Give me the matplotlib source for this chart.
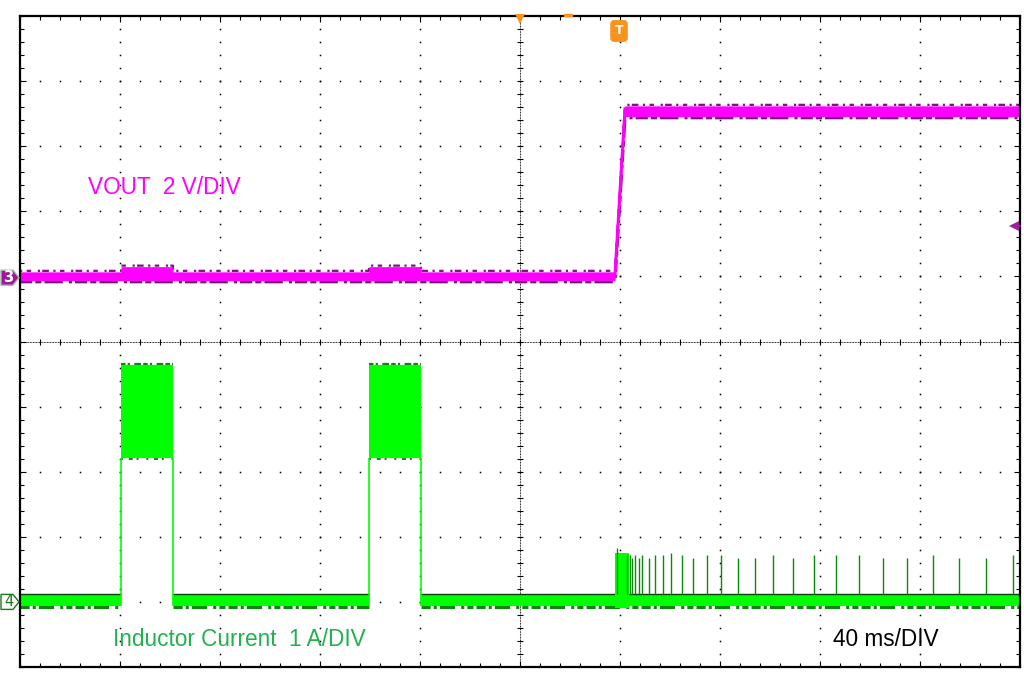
import matplotlib
matplotlib.use("Agg")
import matplotlib.pyplot as plt
import numpy as np
from matplotlib.patches import Polygon, Rectangle
from matplotlib.transforms import blended_transform_factory

# Scope settings (per division)
MS_PER_DIV = 40
V_PER_DIV = 2
A_PER_DIV = 1
CH3_OFFSET = 0.98    # VOUT ground marker, in divisions
CH4_OFFSET = -4.0    # inductor current ground marker, in divisions
TRIG_T = 39.6        # trigger point (ms from screen centre)
TRIG_LEVEL = 1.59    # VOUT trigger level (V)

# VOUT envelope: time (ms) and upper / lower edge of the trace (V)
vout_t = [-200, -159.6, -159.6, -138.8, -138.8, -60.4, -60.4, -39.6, -39.6, 38.0, 42.0, 200]
vout_hi = [0.18, 0.18, 0.34, 0.34, 0.18, 0.18, 0.34, 0.34, 0.18, 0.18, 5.28, 5.28]
vout_lo = [-0.09, -0.09, -0.09, -0.09, -0.09, -0.09, -0.09, -0.09, -0.09, -0.09, 4.95, 4.95]

# Inductor current baseline (idle) segments, ms
il_base_start = [-200, -138.8, -39.6]
il_base_end = [-159.6, -60.4, 200]
il_base_hi = 0.12
il_base_lo = -0.06

# Charging bursts: ripple band of the inductor current (A)
burst_start = [-159.6, -60.4]
burst_end = [-138.8, -39.6]
burst_lo = 2.21
burst_hi = 3.64

# Start-up block after VOUT rises
startup_t = [38.0, 43.6]
startup_hi = 0.75
startup_lo = -0.09

# Switching spikes after start-up: time (ms), peak current (A)
spike_t = [38.8, 42.9, 44.1, 44.9, 46.1, 47.5, 48.9, 51.5, 53.9, 57.1, 60.5, 64.9, 69.3,
           74.9, 80.5, 87.3, 94.1, 101.3, 109.3, 117.7, 126.5, 135.7, 145.3, 154.9,
           165.3, 175.7, 186.5, 197.3]
spike_a = [0.83, 0.72, 0.72, 0.68, 0.72, 0.68, 0.72, 0.68, 0.72, 0.72, 0.75, 0.72, 0.68,
           0.72, 0.72, 0.68, 0.68, 0.72, 0.68, 0.72, 0.72, 0.72, 0.68, 0.68,
           0.72, 0.68, 0.68, 0.72]

MAGENTA = "#ff00ff"
DARK_MAGENTA = "#7a137a"
GREEN = "#00ff00"
DARK_GREEN = "#0a8a0a"
ORANGE = "#f7941d"
PX = 1 / 65.1   # one pixel in vertical divisions

# convert channel values to screen divisions
def ch3(v):
    return CH3_OFFSET + np.asarray(v, dtype=float) / V_PER_DIV

def ch4(a):
    return CH4_OFFSET + np.asarray(a, dtype=float) / A_PER_DIV

fig = plt.figure(figsize=(10.24, 6.76), dpi=100)
ax = fig.add_axes([20 / 1024, 9 / 676, 1000 / 1024, 651 / 676])
ax.set_xlim(-5 * MS_PER_DIV, 5 * MS_PER_DIV)
ax.set_ylim(-5, 5)

# --- graticule ---
x_major = np.arange(-4, 5) * MS_PER_DIV
y_major = np.arange(-4, 5)
x_minor = np.arange(-5 * MS_PER_DIV, 5 * MS_PER_DIV + 1, MS_PER_DIV / 5)
y_minor = np.round(np.arange(-5, 5.01, 0.2), 2)

for xm in x_major:
    if xm == 0:
        continue
    ax.plot(np.full(len(y_minor), xm), y_minor, ls="none", marker="s",
            ms=1.1, mew=0, color="black", zorder=1)
for ym in y_major:
    if ym == 0:
        continue
    ax.plot(x_minor, np.full(len(x_minor), ym), ls="none", marker="s",
            ms=1.1, mew=0, color="black", zorder=1)

# centre cross-hair: dense dots with small tick marks
ax.axhline(0, color="black", lw=0.75, ls=(0, (0.75, 0.75)), zorder=1)
ax.axvline(0, color="black", lw=0.75, ls=(0, (0.75, 0.75)), zorder=1)
ax.plot(x_minor, np.zeros(len(x_minor)), ls="none", marker="|", ms=4, mew=0.8,
        color="black", zorder=1)
ax.plot(np.zeros(len(y_minor)), y_minor, ls="none", marker="_", ms=4, mew=0.8,
        color="black", zorder=1)

# border ticks
ax.set_xticks(x_major)
ax.set_yticks(y_major)
ax.set_xticks(x_minor, minor=True)
ax.set_yticks(y_minor, minor=True)
ax.tick_params(which="both", direction="in", top=True, right=True,
               labelbottom=False, labelleft=False, color="black")
ax.tick_params(which="major", length=4, width=0.8)
ax.tick_params(which="minor", length=3, width=0.8)
for sp in ax.spines.values():
    sp.set_linewidth(1.6)
    sp.set_zorder(6)

# --- VOUT trace (channel 3) ---
ax.fill_between(vout_t, ch3(vout_lo), ch3(vout_hi), color=MAGENTA, lw=0, zorder=3)
ax.plot(vout_t, ch3(vout_lo) - 1.2 * PX, color=DARK_MAGENTA, lw=2.2,
        ls=(0, (4, 1, 2, 1, 6, 2, 1, 1)), zorder=2)
ax.plot(vout_t, ch3(vout_hi) + 1.0 * PX, color=DARK_MAGENTA, lw=1.6,
        ls=(0, (1, 2, 2, 3, 1, 1, 3, 2)), zorder=2)
ax.plot(vout_t[8:11], ch3(vout_hi[8:11]) - 3 * PX, color=MAGENTA, lw=2.2, zorder=3)

# --- Inductor current trace (channel 4) ---
for t0, t1 in zip(il_base_start, il_base_end):
    ax.fill_between([t0, t1], ch4(il_base_lo), ch4(il_base_hi), color=GREEN, lw=0, zorder=3)
    ax.plot([t0, t1], [ch4(il_base_hi) + 0.5 * PX] * 2, color="#123d12", lw=1.0, zorder=3)
    ax.plot([t0, t1], [ch4(il_base_lo) - 1.2 * PX] * 2, color=DARK_GREEN, lw=2.2,
            ls=(0, (3, 1, 1, 1, 5, 2, 1, 1, 2, 1)), zorder=2)

for t0, t1 in zip(burst_start, burst_end):
    ax.fill_between([t0, t1], ch4(burst_lo), ch4(burst_hi), color=GREEN, lw=0, zorder=3)
    ax.plot([t0, t1], [ch4(burst_hi) + 1.0 * PX] * 2, color=DARK_GREEN, lw=1.6,
            ls=(0, (2, 1, 1, 2, 3, 1)), zorder=2)
    ax.plot([t0, t1], [ch4(burst_lo) - 1.0 * PX] * 2, color=DARK_GREEN, lw=1.4,
            ls=(0, (1, 3, 2, 2, 1, 4)), zorder=2)
    ax.vlines([t0, t1], ch4(il_base_lo), ch4(burst_lo), color=GREEN, lw=1.2, zorder=3)

ax.fill_between(startup_t, ch4(startup_lo), ch4(startup_hi), color=GREEN, lw=0, zorder=3)
ax.vlines(spike_t, ch4(il_base_hi), ch4(spike_a), color=DARK_GREEN, lw=1.0, zorder=3)

# --- channel markers ---
trans = blended_transform_factory(fig.transFigure, ax.transData)
h = 7.5 * PX
fx = 1 / 1024
for off, fc, ec, tc, lab in [(CH3_OFFSET, "#9b1c9b", "#b0b0b0", "white", "3"),
                             (CH4_OFFSET, "white", "#1a7a1a", "#1a7a1a", "4")]:
    pent = Polygon([(1 * fx, off + h), (13 * fx, off + h), (19 * fx, off),
                    (13 * fx, off - h), (1 * fx, off - h)], closed=True,
                   transform=trans, facecolor=fc, edgecolor=ec, lw=1.0,
                   clip_on=False, zorder=7)
    fig.patches.append(pent)
    fig.text(8.5 * fx, off, lab, transform=trans, color=tc, fontsize=10.5,
             fontweight="bold" if lab == "3" else "normal",
             ha="center", va="center", family="DejaVu Sans", zorder=9)

# trigger level arrow (right edge)
ax.plot([0.993, 1.0], [ch3(TRIG_LEVEL)] * 2, color="#a01fa0", lw=1.2,
        transform=blended_transform_factory(ax.transAxes, ax.transData),
        clip_on=False, zorder=7)
ax.plot([0.9935], [ch3(TRIG_LEVEL)], marker="<", ms=7, mew=0, color="#a01fa0",
        transform=blended_transform_factory(ax.transAxes, ax.transData),
        clip_on=False, zorder=7)

# trigger position markers (top)
ax.plot([0], [5 - 3.5 * PX], marker="v", ms=7, color=ORANGE, mew=0, clip_on=False, zorder=7)
ax.add_patch(Rectangle((17.6, 5.0), 3.2, 2 * PX, color=ORANGE, clip_on=False, zorder=7))
ax.text(TRIG_T, 5 - 15 * PX, "T", color="white", fontsize=9, fontweight="bold",
        ha="center", va="center", zorder=8, family="DejaVu Sans",
        bbox=dict(boxstyle="round,pad=0.3,rounding_size=0.25", fc=ORANGE, ec=ORANGE))

# --- labels ---
ax.text(-172.8, 2.37, "VOUT  2 V/DIV", color=MAGENTA, fontsize=16.3,
        family="Liberation Sans", ha="left", va="center", zorder=8)
ax.text(-162.8, -4.57, "Inductor Current  1 A/DIV", color="#22b14c", fontsize=16.3,
        family="Liberation Sans", ha="left", va="center", zorder=8)
ax.text(125.2, -4.585, "40 ms/DIV", color="black", fontsize=16.3,
        family="Liberation Sans", ha="left", va="center", zorder=8)

fig.savefig("out.png", dpi=100, facecolor="white")
plt.close(fig)
